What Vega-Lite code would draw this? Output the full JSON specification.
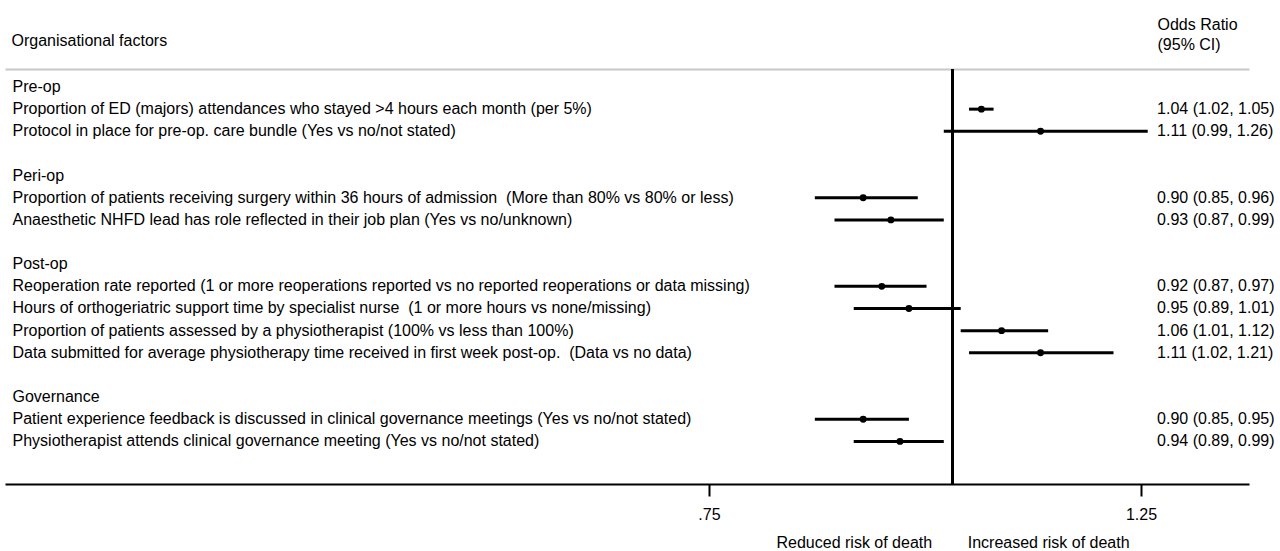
{
  "$schema": "https://vega.github.io/schema/vega-lite/v6.json",
  "width": 1244,
  "height": 415,
  "autosize": "none",
  "padding": {"left": 5, "top": 69, "right": 31, "bottom": 67},
  "config": {"font": "Liberation Sans", "view": {"stroke": null}},
  "data": {
    "values": [
      {"label": "Pre-op"},
      {"label": "Proportion of ED (majors) attendances who stayed >4 hours each month (per 5%)", "or": 1.035, "lo": 1.02, "hi": 1.05, "ci": "1.04 (1.02, 1.05)"},
      {"label": "Protocol in place for pre-op. care bundle (Yes vs no/not stated)", "or": 1.11, "lo": 0.99, "hi": 1.26, "ci": "1.11 (0.99, 1.26)"},
      {"label": "Peri-op"},
      {"label": "Proportion of patients receiving surgery within 36 hours of admission\u00a0 (More than 80% vs 80% or less)", "or": 0.9, "lo": 0.85, "hi": 0.96, "ci": "0.90 (0.85, 0.96)"},
      {"label": "Anaesthetic NHFD lead has role reflected in their job plan (Yes vs no/unknown)", "or": 0.93, "lo": 0.87, "hi": 0.99, "ci": "0.93 (0.87, 0.99)"},
      {"label": "Post-op"},
      {"label": "Reoperation rate reported (1 or more reoperations reported vs no reported reoperations or data missing)", "or": 0.92, "lo": 0.87, "hi": 0.97, "ci": "0.92 (0.87, 0.97)"},
      {"label": "Hours of orthogeriatric support time by specialist nurse\u00a0 (1 or more hours vs none/missing)", "or": 0.95, "lo": 0.89, "hi": 1.01, "ci": "0.95 (0.89, 1.01)"},
      {"label": "Proportion of patients assessed by a physiotherapist (100% vs less than 100%)", "or": 1.06, "lo": 1.01, "hi": 1.12, "ci": "1.06 (1.01, 1.12)"},
      {"label": "Data submitted for average physiotherapy time received in first week post-op.\u00a0 (Data vs no data)", "or": 1.11, "lo": 1.02, "hi": 1.21, "ci": "1.11 (1.02, 1.21)"},
      {"label": "Governance"},
      {"label": "Patient experience feedback is discussed in clinical governance meetings (Yes vs no/not stated)", "or": 0.9, "lo": 0.85, "hi": 0.95, "ci": "0.90 (0.85, 0.95)"},
      {"label": "Physiotherapist attends clinical governance meeting (Yes vs no/not stated)", "or": 0.94, "lo": 0.89, "hi": 0.99, "ci": "0.94 (0.89, 0.99)"}
    ]
  },
  "layer": [
    {
      "encoding": {
        "y": {
          "field": "label",
          "type": "nominal",
          "scale": {
            "type": "band",
            "domain": [
              "Pre-op",
              "Proportion of ED (majors) attendances who stayed >4 hours each month (per 5%)",
              "Protocol in place for pre-op. care bundle (Yes vs no/not stated)",
              " ",
              "Peri-op",
              "Proportion of patients receiving surgery within 36 hours of admission\u00a0 (More than 80% vs 80% or less)",
              "Anaesthetic NHFD lead has role reflected in their job plan (Yes vs no/unknown)",
              "  ",
              "Post-op",
              "Reoperation rate reported (1 or more reoperations reported vs no reported reoperations or data missing)",
              "Hours of orthogeriatric support time by specialist nurse\u00a0 (1 or more hours vs none/missing)",
              "Proportion of patients assessed by a physiotherapist (100% vs less than 100%)",
              "Data submitted for average physiotherapy time received in first week post-op.\u00a0 (Data vs no data)",
              "   ",
              "Governance",
              "Patient experience feedback is discussed in clinical governance meetings (Yes vs no/not stated)",
              "Physiotherapist attends clinical governance meeting (Yes vs no/not stated)"
            ],
            "paddingInner": 0,
            "paddingOuter": 0.868,
            "align": 0.18
          },
          "axis": {
            "orient": "left",
            "domain": false,
            "ticks": false,
            "tickSize": 0,
            "grid": false,
            "labelAlign": "left",
            "labelPadding": -7,
            "labelLimit": 1000,
            "labelFontSize": 16,
            "labelColor": "black",
            "labelOverlap": false,
            "title": "Organisational factors",
            "titleAngle": 0,
            "titleAlign": "left",
            "titleBaseline": "alphabetic",
            "titleX": 6,
            "titleY": -24,
            "titleFontSize": 16,
            "titleFontWeight": "normal",
            "titleColor": "black"
          }
        }
      },
      "layer": [
        {
          "mark": {"type": "rule", "strokeWidth": 3, "color": "black"},
          "encoding": {
            "x": {
              "field": "lo",
              "type": "quantitative",
              "scale": {"type": "log", "domain": [0.32625, 1.42026], "nice": false},
              "axis": {
                "orient": "top",
                "labels": false,
                "ticks": false,
                "tickSize": 0,
                "grid": false,
                "domainColor": "#c8c8c8",
                "domainWidth": 2,
                "title": ["Odds Ratio", "(95% CI)"],
                "titleX": 1152,
                "titleY": -40,
                "titleAngle": 0,
                "titleAlign": "left",
                "titleBaseline": "alphabetic",
                "titleLineHeight": 20,
                "titleFontSize": 16,
                "titleFontWeight": "normal",
                "titleColor": "black"
              }
            },
            "x2": {"field": "hi"}
          }
        },
        {
          "mark": {"type": "point", "filled": true, "size": 48, "color": "black", "opacity": 1},
          "encoding": {
            "x": {
              "field": "or",
              "type": "quantitative",
              "scale": {"type": "log", "domain": [0.32625, 1.42026], "nice": false},
              "axis": {
                "orient": "bottom",
                "values": [0.75, 1.25],
                "labelExpr": "replace(format(datum.value, '.2f'), '0.', '.')",
                "grid": false,
                "domainColor": "black",
                "domainWidth": 2,
                "tickColor": "black",
                "tickWidth": 2,
                "tickSize": 12,
                "labelFontSize": 16,
                "labelColor": "black",
                "labelBaseline": "alphabetic",
                "labelPadding": 23,
                "labelFlush": false,
                "title": "Reduced risk of death\u00a0\u00a0\u00a0\u00a0\u00a0\u00a0\u00a0\u00a0Increased risk of death",
                "titleX": 771,
                "titleY": 63.5,
                "titleAlign": "left",
                "titleBaseline": "alphabetic",
                "titleAngle": 0,
                "titleFontSize": 16,
                "titleFontWeight": "normal",
                "titleColor": "black"
              }
            }
          }
        },
        {
          "transform": [{"filter": "isValid(datum.ci)"}],
          "mark": {"type": "text", "align": "left", "baseline": "middle", "fontSize": 16, "color": "black"},
          "encoding": {
            "x": {"datum": 1.274, "scale": {"type": "log", "domain": [0.32625, 1.42026], "nice": false}, "axis": null},
            "text": {"field": "ci", "type": "nominal"}
          }
        }
      ]
    },
    {
      "mark": {"type": "rule", "strokeWidth": 2, "color": "black"},
      "encoding": {
        "x": {"datum": 1, "scale": {"type": "log", "domain": [0.32625, 1.42026], "nice": false}, "axis": null}
      }
    }
  ]
}
